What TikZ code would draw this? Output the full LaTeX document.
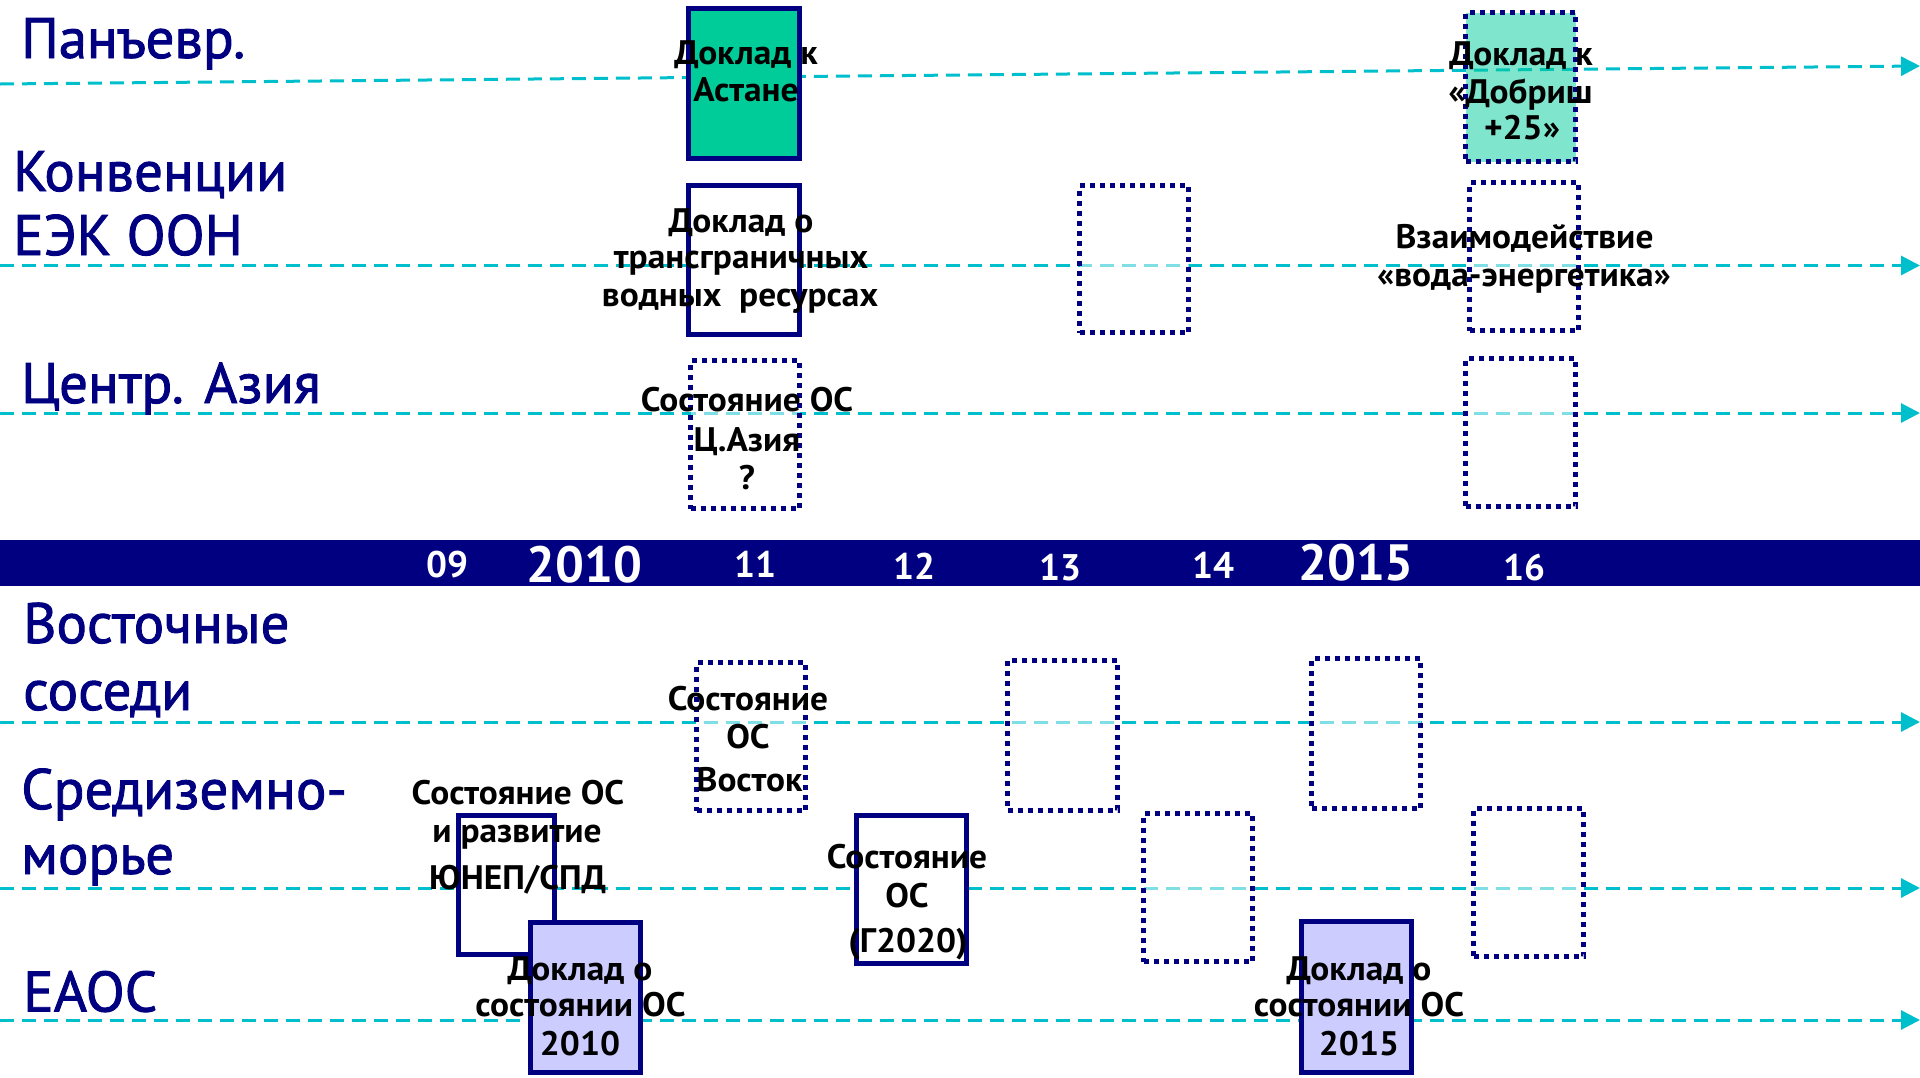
\documentclass[tikz,border=0pt]{standalone}
\usepackage{fontspec}
\setmainfont{PT Sans}
\newfontfamily\lanefont{PT Sans}[FakeBold=1.5]
\newfontfamily\boxfont{PT Sans Bold}[FakeStretch=1.04]
\usetikzlibrary{arrows.meta}
\definecolor{navy}{RGB}{0,0,128}
\definecolor{lanecyan}{RGB}{0,191,204}
\definecolor{astgreen}{RGB}{0,204,153}
\definecolor{eaocpurple}{RGB}{204,204,255}
\begin{document}
\begin{tikzpicture}[x=1pt,y=-1pt,
  lane/.style={draw=lanecyan, line width=3pt, dash pattern=on 14pt off 8pt, -{Triangle[length=19pt,width=19pt]}},
  solidbox/.style={draw=navy, line width=5pt, fill=white, inner sep=0pt, outer sep=0pt},
  dotbox/.style={draw=navy, line width=5pt, dash pattern=on 5pt off 5pt, fill=white, fill opacity=0.5, inner sep=0pt, outer sep=0pt},
  lanelbl/.style={anchor=base west, text=navy, font=\lanefont\fontsize{57}{60}\selectfont, inner sep=0pt},
  yearlbl/.style={anchor=base, text=white, font=\bfseries\fontsize{37}{40}\selectfont, inner sep=0pt},
  bigyear/.style={anchor=base, text=white, font=\bfseries\fontsize{51}{54}\selectfont, inner sep=0pt},
  boxtxt/.style={anchor=base, text=black, font=\boxfont\fontsize{34}{36}\selectfont, inner sep=0pt},
]
\useasboundingbox (0,0) rectangle (1920,1077);
% year band
\node[fill=navy, minimum width=1920pt, minimum height=46pt, inner sep=0pt, outer sep=0pt, anchor=north west] (band) at (0,540) {};
% lanes
\coordinate (l1s) at (0,84);      \coordinate (l1e) at (1920,66);
\coordinate (l2s) at (0,265.5);   \coordinate (l2e) at (1920,265.5);
\coordinate (l3s) at (0,413);     \coordinate (l3e) at (1920,413);
\coordinate (l4s) at (0,722);     \coordinate (l4e) at (1920,722);
\coordinate (l5s) at (0,888);     \coordinate (l5e) at (1920,888);
\coordinate (l6s) at (0,1020);    \coordinate (l6e) at (1920,1020);
\draw[lane] (l1s) -- (l1e);
\draw[lane] (l2s) -- (l2e);
\draw[lane] (l3s) -- (l3e);
\draw[lane] (l4s) -- (l4e);
\draw[lane] (l5s) -- (l5e);
\draw[lane] (l6s) -- (l6e);
% boxes
\node[solidbox, fill=astgreen, minimum width=111pt, minimum height=150pt] (bA) at (744,83.5) {};
\node[solidbox, minimum width=111pt, minimum height=149.5pt] (bB) at (744,260) {};
\node[dotbox, minimum width=109pt, minimum height=148pt] (bC) at (745,434.5) {};
\node[dotbox, minimum width=109pt, minimum height=147pt] (bD) at (1134,259) {};
\node[dotbox, fill=astgreen, minimum width=110pt, minimum height=149pt] (bE) at (1520.5,87) {};
\node[dotbox, minimum width=109pt, minimum height=148pt] (bF) at (1524,256.5) {};
\node[dotbox, minimum width=110pt, minimum height=148pt] (bG) at (1520.5,432.5) {};
\node[dotbox, minimum width=109pt, minimum height=148pt] (bH) at (751,736.5) {};
\node[dotbox, minimum width=110pt, minimum height=149.5pt] (bI) at (1062.5,735.3) {};
\node[dotbox, minimum width=109pt, minimum height=150pt] (bJ) at (1366,733.5) {};
\node[dotbox, minimum width=109pt, minimum height=148pt] (bK) at (1198,887.5) {};
\node[dotbox, minimum width=110pt, minimum height=148pt] (bL) at (1528.5,882.5) {};
\node[solidbox, minimum width=110pt, minimum height=148pt] (bM) at (911.5,889.5) {};
\node[solidbox, minimum width=96pt, minimum height=139pt] (bN) at (506.5,885) {};
\node[solidbox, fill=eaocpurple, minimum width=110pt, minimum height=150pt] (bO) at (585.5,997.5) {};
\node[solidbox, fill=eaocpurple, minimum width=110pt, minimum height=151pt] (bP) at (1356.5,997) {};
% lane labels
\node[lanelbl] (t1) at (21,58) {Панъевр.};
\node[lanelbl] (t2a) at (13,191) {Конвенции};
\node[lanelbl] (t2b) at (13,255) {ЕЭК ООН};
\node[lanelbl] (t3) at (21,403) {Центр. Азия};
\node[lanelbl] (t4a) at (23,643) {Восточные};
\node[lanelbl] (t4b) at (23,710) {соседи};
\node[lanelbl] (t5a) at (21,809) {Средиземно-};
\node[lanelbl] (t5b) at (21,874) {морье};
\node[lanelbl] (t6) at (23,1011.5) {ЕАОС};
% years
\node[yearlbl] (y09) at (447,577) {09};
\node[bigyear] (y10) at (584.5,582) {2010};
\node[yearlbl] (y11) at (755,577) {11};
\node[yearlbl] (y12) at (914,579) {12};
\node[yearlbl] (y13) at (1060,580.5) {13};
\node[yearlbl] (y14) at (1213,578) {14};
\node[bigyear] (y15) at (1356,580) {2015};
\node[yearlbl] (y16) at (1524,580.5) {16};
% box texts
\node[boxtxt] (tA1) at (746,64) {Доклад к};
\node[boxtxt] (tA2) at (746,101.6) {Астане};
\node[boxtxt] (tB1) at (741,232) {Доклад о};
\node[boxtxt] (tB2) at (741,268.6) {трансграничных};
\node[boxtxt] (tB3) at (740,306) {водных\ \ ресурсах};
\node[boxtxt] (tC1) at (747,411.5) {Состояние ОС};
\node[boxtxt] (tC2) at (747,451) {Ц.Азия};
\node[boxtxt] (tC3) at (747,489) {?};
\node[boxtxt] (tE1) at (1521,65.4) {Доклад к};
\node[boxtxt] (tE2) at (1520.5,103) {«Добриш};
\node[boxtxt] (tE3) at (1522,139.5) {+25»};
\node[boxtxt] (tF1) at (1524.5,248.6) {Взаимодействие};
\node[boxtxt] (tF2) at (1524,286) {«вода-энергетика»};
\node[boxtxt] (tH1) at (748,710.7) {Состояние};
\node[boxtxt] (tH2) at (748,748) {ОС};
\node[boxtxt] (tH3) at (749.5,791) {Восток};
\node[boxtxt] (tM1) at (907,868.5) {Состояние};
\node[boxtxt] (tM2) at (907,907.5) {ОС};
\node[boxtxt] (tM3) at (908,952) {(Г2020)};
\node[boxtxt] (tN1) at (518,804) {Состояние ОС};
\node[boxtxt] (tN2) at (517,842) {и развитие};
\node[boxtxt] (tN3) at (517.6,889) {ЮНЕП/СПД};
\node[boxtxt] (tO1) at (580,980) {Доклад о};
\node[boxtxt] (tO2) at (580.5,1016.7) {состоянии ОС};
\node[boxtxt] (tO3) at (580,1055) {2010};
\node[boxtxt] (tP1) at (1359,980) {Доклад о};
\node[boxtxt] (tP2) at (1359,1016.7) {состоянии ОС};
\node[boxtxt] (tP3) at (1359,1055) {2015};
\end{tikzpicture}
\end{document}
